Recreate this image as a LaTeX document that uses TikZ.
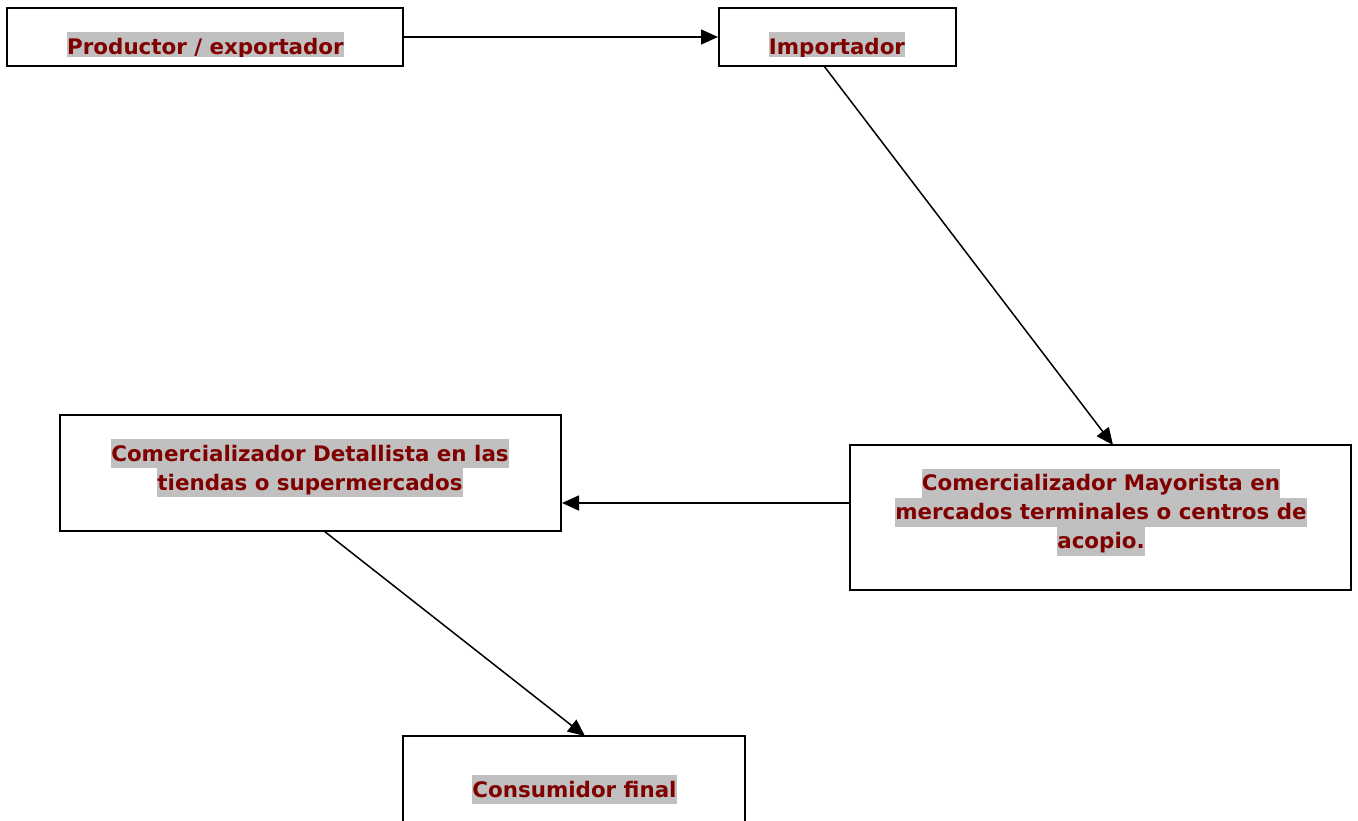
\documentclass[tikz,border=0pt]{standalone}
\usepackage{fontspec}
\setmainfont{DejaVu Sans}
\usetikzlibrary{arrows.meta}
\definecolor{txtred}{HTML}{800000}
\definecolor{hlgray}{HTML}{C0C0C0}
\newcommand\hlline[1]{{\setlength{\fboxsep}{0pt}\colorbox{hlgray}{\rule[-7pt]{0pt}{29pt}#1}}}
\tikzset{
  stagebox/.style={draw=black, line width=2pt, inner sep=0pt},
  stagetext/.style={inner sep=0pt, text=txtred, font=\fontsize{21.4}{29}\selectfont\bfseries, align=center},
  flow/.style={line width=1.5pt, -{Triangle[length=17pt,width=15pt]}},
}
\begin{document}
\begin{tikzpicture}[x=1pt,y=-1pt]
\useasboundingbox (0,0) rectangle (1358,820);
% boxes
\node[stagebox, minimum width=396pt, minimum height=58pt] (A) at (205,37) {};
\node[stagebox, minimum width=237pt, minimum height=58pt] (B) at (837.5,37) {};
\node[stagebox, minimum width=501pt, minimum height=145pt] (C) at (1100.5,517.5) {};
\node[stagebox, minimum width=501pt, minimum height=116pt] (D) at (310.5,473) {};
\node[stagebox, minimum width=342pt, minimum height=90pt] (E) at (574,781) {};
% texts
\begin{scope}
\clip (0,0) rectangle (1358,56);
\node[stagetext] (At) at (205.5,46.5) {\hlline{Productor / exportador}};
\node[stagetext] (Bt) at (837,46.5) {\hlline{Importador}};
\end{scope}
\node[stagetext] (Ct) at (1101,512) {\hlline{Comercializador Mayorista en}\\\hlline{mercados terminales o centros de}\\\hlline{acopio.}};
\node[stagetext] (Dt) at (310,468) {\hlline{Comercializador Detallista en las}\\\hlline{tiendas o supermercados}};
\node[stagetext] (Et) at (574.5,789.5) {\hlline{Consumidor final}};
% connectors
\coordinate (Bb) at (824,66);
\coordinate (Ctop) at (1113,445);
\coordinate (Db) at (324,531);
\coordinate (Etop) at (585,736);
\draw[flow] (A.east) -- (B.west);
\draw[flow] (Bb) -- (Ctop);
\draw[flow] (C.west |- 0,503) -- (D.east |- 0,503);
\draw[flow] (Db) -- (Etop);
\end{tikzpicture}
\end{document}
